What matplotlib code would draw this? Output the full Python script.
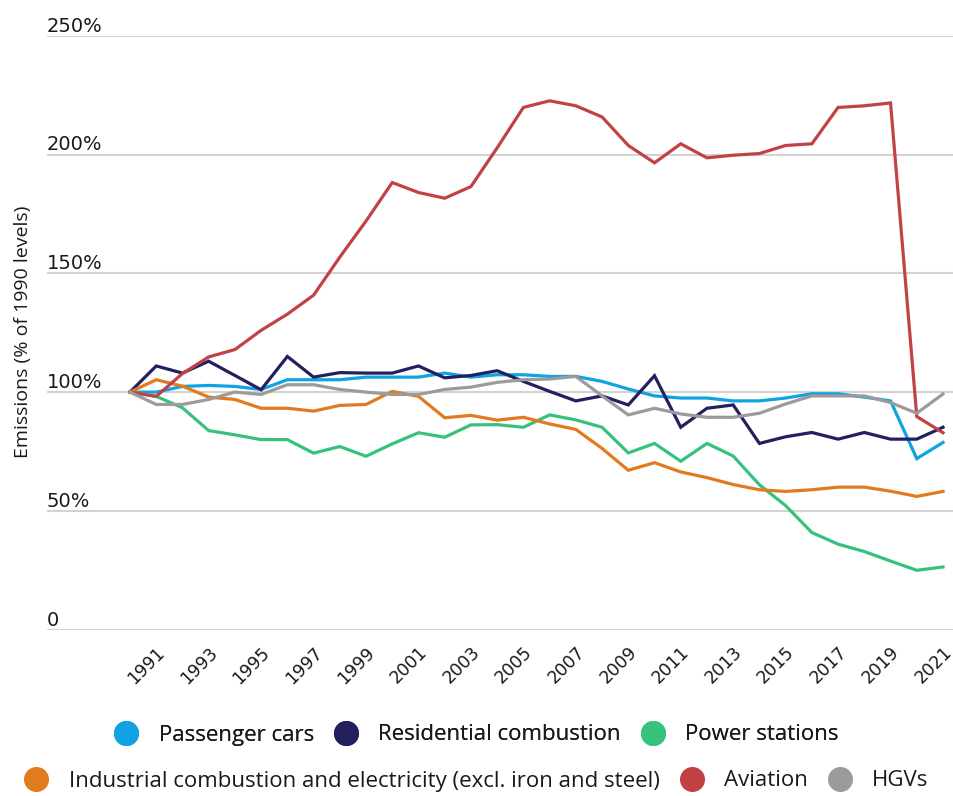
import matplotlib
matplotlib.use("Agg")
import matplotlib.pyplot as plt
from matplotlib.lines import Line2D
from matplotlib.transforms import ScaledTranslation, blended_transform_factory

years = list(range(1990, 2022))

passenger_cars = [100, 100, 102.4, 102.8, 102.4, 101.1, 105.2, 105.2, 105.2, 106.3, 106.3,
                  106.3, 108, 106.3, 107.3, 107.3, 106.6, 106.6, 104.5, 101.3, 98.4,
                  97.5, 97.5, 96.3, 96.3, 97.5, 99.3, 99.3, 97.9, 96.3, 72, 78.8]
residential = [100, 111, 108, 113, 107, 101, 115, 106.3, 108.2, 108, 108,
               111, 106, 107, 109, 104.5, 100.3, 96.3, 98.4, 94.6, 106.9,
               85.2, 93.2, 94.6, 78.4, 81.2, 83, 80.2, 83, 80.2, 80.2, 85.2]
power_stations = [100, 98.2, 93.4, 83.8, 82, 80, 80, 74.3, 77.1, 73, 78.2,
                  82.9, 81, 86.2, 86.3, 85.2, 90.4, 88.3, 85.2, 74.4, 78.4,
                  70.9, 78.4, 73.1, 61, 52.2, 40.9, 36, 32.9, 28.9, 25, 26.4]
industrial = [100, 105.2, 102.5, 97.9, 96.9, 93.2, 93.2, 92, 94.4, 94.8, 100.3,
              98.2, 89.2, 90.2, 88.2, 89.4, 86.6, 84.3, 76.3, 67.1, 70.3,
              66.4, 64, 61.1, 58.9, 58.2, 58.9, 60, 60, 58.3, 56.1, 58.2]
aviation = [100, 98.2, 107.8, 114.8, 117.9, 126, 132.8, 140.8, 156.8, 172, 188.2,
            184, 181.6, 186.5, 202.8, 219.8, 222.6, 220.5, 215.8, 203.8, 196.5,
            204.5, 198.6, 199.7, 200.4, 203.8, 204.5, 219.8, 220.5, 221.7, 89.7, 82.9]
hgvs = [100, 94.8, 94.8, 96.9, 100, 99, 103.1, 103.1, 101.1, 100, 99,
        99, 101.1, 102.1, 104.1, 105.2, 105.5, 106.6, 98.4, 90.4, 93.2,
        90.8, 89.4, 89.4, 91.1, 95, 98.4, 98.4, 98.4, 95.6, 91.1, 99.2]

series_names = ["Passenger cars", "Residential combustion", "Power stations",
                "Industrial combustion and electricity (excl. iron and steel)",
                "Aviation", "HGVs"]
series_values = [passenger_cars, residential, power_stations, industrial, aviation, hgvs]
colors = ["#0fa3e3", "#22205e", "#36c27d", "#e27a1f", "#c24244", "#9b9b9b"]

y_ticks = [0, 50, 100, 150, 200, 250]
y_tick_labels = ["0", "50%", "100%", "150%", "200%", "250%"]
x_ticks = list(range(1991, 2022, 2))
x_tick_labels = [str(y) for y in x_ticks]

W, H = 954, 796
fig = plt.figure(figsize=(W / 100, H / 100), dpi=100)
left_px, right_px, top_px, bottom_px = 47, 954, 35.7, 629.7
ax = fig.add_axes([left_px / W, 1 - bottom_px / H, (right_px - left_px) / W, (bottom_px - top_px) / H])

px_per_year = (943 - 130) / 31
ax.set_xlim(1990 - (130 - left_px) / px_per_year, 2021 + (right_px - 943) / px_per_year)
ax.set_ylim(0, 250)

for v in y_ticks:
    ax.axhline(v, color="#d3d3d3", lw=1.5, zorder=0)

for vals, c in zip(series_values, colors):
    ax.plot(years, vals, color=c, lw=2.3, solid_joinstyle="miter", zorder=2)

for s in ax.spines.values():
    s.set_visible(False)
ax.set_xticks([])
ax.set_yticks([])

trans_y = blended_transform_factory(ax.transAxes, ax.transData)
off_up = ScaledTranslation(0, 4 / 100, fig.dpi_scale_trans)
for v, lab in zip(y_ticks, y_tick_labels):
    ax.text(0, v, lab, transform=trans_y + off_up, ha="left", va="baseline",
            fontsize=14, family="DejaVu Sans", color="#1a1a1a")

trans_x = ax.get_xaxis_transform() + ScaledTranslation(6 / 100, -20 / 100, fig.dpi_scale_trans)
for xv, lab in zip(x_ticks, x_tick_labels):
    ax.text(xv, 0, lab, transform=trans_x, rotation=45, rotation_mode="anchor",
            ha="right", va="center", fontsize=12.5, family="DejaVu Sans", color="#1a1a1a")

fig.text(23 / W, 1 - 332 / H, "Emissions (% of 1990 levels)", rotation=90,
         ha="center", va="center", fontsize=14, family="Open Sans", color="#1a1a1a")

def handle(c):
    return Line2D([], [], marker="o", linestyle="none", markersize=17,
                  markerfacecolor=c, markeredgecolor=c)

leg_kw = dict(ncol=3, loc="center", frameon=False,
              prop={"family": "Open Sans", "size": 16}, handletextpad=0.95,
              columnspacing=0.95, handlelength=1.0, borderpad=0, borderaxespad=0)
leg1 = fig.legend([handle(c) for c in colors[:3]], series_names[:3],
                  bbox_to_anchor=(0.5, 1 - 735 / H), **leg_kw)
leg2 = fig.legend([handle(c) for c in colors[3:]], series_names[3:],
                  bbox_to_anchor=(0.5, 1 - 781 / H), **leg_kw)
fig.add_artist(leg1)
for lg in (leg1, leg2):
    for t in lg.get_texts():
        t.set_color("#1a1a1a")

fig.savefig("out.png", dpi=100)
